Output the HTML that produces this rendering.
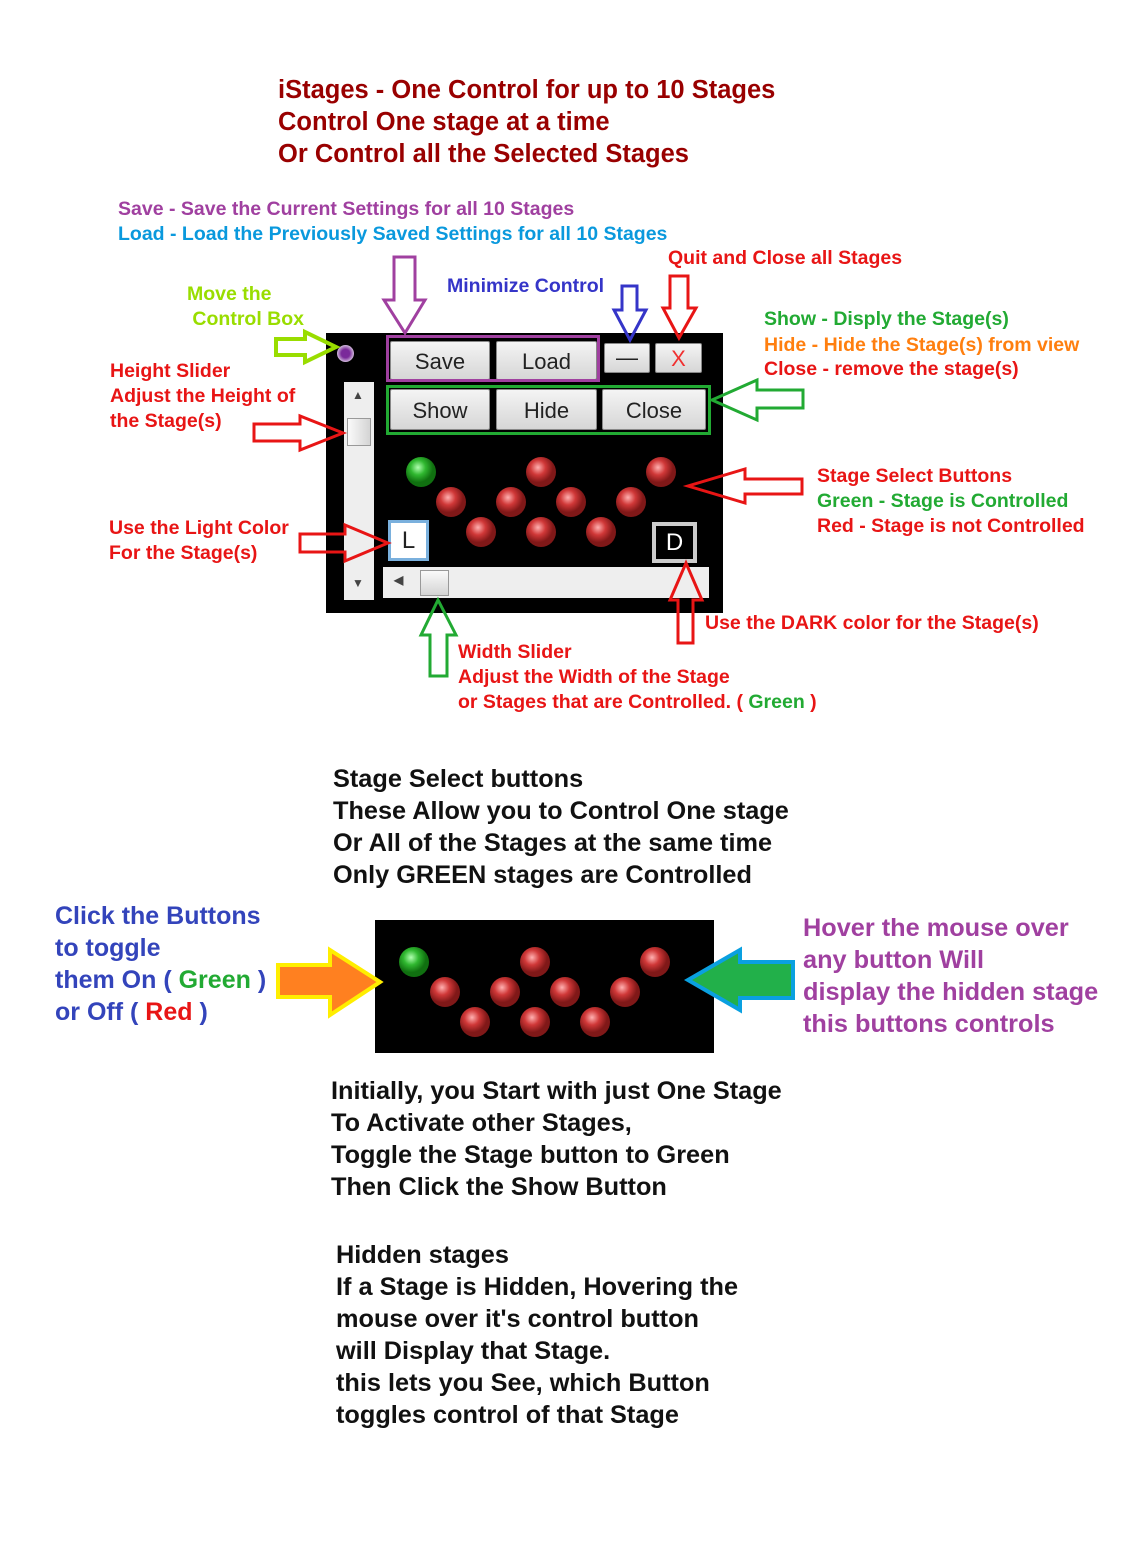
<!DOCTYPE html>
<html><head><meta charset="utf-8"><style>
body{margin:0;width:1137px;height:1553px;background:#fff;position:relative;overflow:hidden;font-family:"Liberation Sans",sans-serif;font-weight:bold}
.t{position:absolute;white-space:nowrap}
.s{font-size:19.5px;line-height:25px}
.b{font-size:25.3px;line-height:32px;color:#111}
.btn{position:absolute;background:linear-gradient(#f4f4f4,#d6d6d6);border:1px solid #888;box-sizing:border-box;font-weight:normal;font-size:22px;color:#222;text-align:center;border-radius:2px}
</style></head><body>
<div class="t" style="left:278px;top:74px;font-size:25.5px;line-height:32px;color:#990000">iStages - One Control for up to 10 Stages<br>Control One stage at a time<br>Or Control all the Selected Stages</div>
<div class="t s" style="left:118px;top:197px;color:#a040a0">Save - Save the Current Settings for all 10 Stages</div>
<div class="t s" style="left:118px;top:222px;color:#0a99dd">Load - Load the Previously Saved Settings for all 10 Stages</div>
<div class="t s" style="left:668px;top:246px;color:#e81515">Quit and Close all Stages</div>
<div class="t s" style="left:447px;top:274px;color:#3535c8">Minimize Control</div>
<div class="t s" style="left:187px;top:282px;color:#99dd00">Move the<br>&nbsp;Control Box</div>
<div class="t s" style="left:110px;top:359px;color:#e81515">Height Slider<br>Adjust the Height of<br>the Stage(s)</div>
<div class="t s" style="left:764px;top:307px;color:#22aa33">Show - Disply the Stage(s)</div>
<div class="t s" style="left:764px;top:333px;color:#ff7f0f">Hide - Hide the Stage(s) from view</div>
<div class="t s" style="left:764px;top:357px;color:#e81515">Close - remove the stage(s)</div>
<div class="t s" style="left:817px;top:464px;color:#e81515">Stage Select Buttons<br><span style="color:#22aa33">Green - Stage is Controlled</span><br>Red - Stage is not Controlled</div>
<div class="t s" style="left:109px;top:516px;color:#e81515">Use the Light Color<br>For the Stage(s)</div>
<div class="t s" style="left:705px;top:611px;color:#e81515">Use the DARK color for the Stage(s)</div>
<div class="t s" style="left:458px;top:640px;color:#e81515">Width Slider<br>Adjust the Width of the Stage<br>or Stages that are Controlled. ( <span style="color:#22aa33">Green</span> )</div>

<div style="position:absolute;left:326px;top:333px;width:397px;height:280px;background:#000"></div>
<div style="position:absolute;left:337px;top:345px;width:17px;height:17px;border-radius:50%;background:radial-gradient(#7a2a9a 35%,#e8e0ee 80%)"></div>
<div class="btn" style="left:390px;top:341px;width:100px;height:39px;line-height:40px">Save</div>
<div class="btn" style="left:496px;top:341px;width:101px;height:39px;line-height:40px">Load</div>
<div class="btn" style="left:604px;top:343px;width:46px;height:30px;line-height:28px">—</div>
<div class="btn" style="left:655px;top:343px;width:47px;height:30px;line-height:30px;color:#f03030">X</div>
<div style="position:absolute;left:386px;top:335px;width:214px;height:47px;border:3px solid #a040a0;box-sizing:border-box"></div>
<div class="btn" style="left:390px;top:389px;width:100px;height:41px;line-height:42px">Show</div>
<div class="btn" style="left:496px;top:389px;width:101px;height:41px;line-height:42px">Hide</div>
<div class="btn" style="left:602px;top:389px;width:104px;height:41px;line-height:42px">Close</div>
<div style="position:absolute;left:386px;top:385px;width:325px;height:50px;border:3px solid #22aa33;box-sizing:border-box"></div>
<div style="position:absolute;left:344px;top:382px;width:30px;height:218px;background:#eee"></div>
<div style="position:absolute;left:347px;top:418px;width:24px;height:28px;background:linear-gradient(90deg,#fafafa,#d4d4d4);border:1px solid #999;box-sizing:border-box"></div>
<div class="t" style="left:352px;top:388px;font-size:12px;color:#444">▲</div>
<div class="t" style="left:352px;top:576px;font-size:12px;color:#444">▼</div>
<div style="position:absolute;left:383px;top:567px;width:326px;height:31px;background:#eee"></div>
<div style="position:absolute;left:420px;top:570px;width:29px;height:26px;background:linear-gradient(#fafafa,#d4d4d4);border:1px solid #999;box-sizing:border-box"></div>
<div class="t" style="left:394px;top:573px;font-size:12px;color:#444">◀</div>
<div style="position:absolute;left:388px;top:520px;width:41px;height:41px;background:#fff;border:3px solid #7ab0dd;box-sizing:border-box;font-size:24px;font-weight:normal;text-align:center;line-height:36px;color:#222">L</div>
<div style="position:absolute;left:652px;top:522px;width:45px;height:41px;background:#000;border:4px solid #ccc;box-sizing:border-box;font-size:24px;font-weight:normal;text-align:center;line-height:34px;color:#fff">D</div>

<div style="position:absolute;left:375px;top:920px;width:339px;height:133px;background:#000"></div>

<svg width="1137" height="1553" style="position:absolute;left:0;top:0" fill="none" stroke-width="3">
<defs>
<radialGradient id="r" cx="40%" cy="35%"><stop offset="0" stop-color="#ffb0b0"/><stop offset=".5" stop-color="#d03838"/><stop offset="1" stop-color="#801818"/></radialGradient>
<radialGradient id="g" cx="40%" cy="35%"><stop offset="0" stop-color="#b0ffb0"/><stop offset=".5" stop-color="#30b830"/><stop offset="1" stop-color="#107010"/></radialGradient>
</defs>
<g stroke="none">
<circle cx="421" cy="472" r="15" fill="url(#g)"/>
<circle cx="541" cy="472" r="15" fill="url(#r)"/><circle cx="661" cy="472" r="15" fill="url(#r)"/>
<circle cx="451" cy="502" r="15" fill="url(#r)"/><circle cx="511" cy="502" r="15" fill="url(#r)"/><circle cx="571" cy="502" r="15" fill="url(#r)"/><circle cx="631" cy="502" r="15" fill="url(#r)"/>
<circle cx="481" cy="532" r="15" fill="url(#r)"/><circle cx="541" cy="532" r="15" fill="url(#r)"/><circle cx="601" cy="532" r="15" fill="url(#r)"/>
<circle cx="414" cy="962" r="15" fill="url(#g)"/>
<circle cx="535" cy="962" r="15" fill="url(#r)"/><circle cx="655" cy="962" r="15" fill="url(#r)"/>
<circle cx="445" cy="992" r="15" fill="url(#r)"/><circle cx="505" cy="992" r="15" fill="url(#r)"/><circle cx="565" cy="992" r="15" fill="url(#r)"/><circle cx="625" cy="992" r="15" fill="url(#r)"/>
<circle cx="475" cy="1022" r="15" fill="url(#r)"/><circle cx="535" cy="1022" r="15" fill="url(#r)"/><circle cx="595" cy="1022" r="15" fill="url(#r)"/>
</g>
<polygon stroke="#a040a0" points="394,257 415,257 415,300 425,300 405,333 384,300 394,300"/>
<polygon stroke="#3535c8" points="622,286 637,286 637,310 646,310 630,340 614,310 622,310"/>
<polygon stroke="#e81515" points="670,276 688,276 688,308 696,308 679,338 663,308 670,308"/>
<polygon stroke="#99dd00" stroke-width="4" points="276,339 305,339 305,332 336,347 305,362 305,355 276,355"/>
<polygon stroke="#22aa33" points="803,390 803,408 757,408 757,420 712,400 757,380 757,390"/>
<polygon stroke="#e81515" points="254,424 300,424 300,416 343,433 300,450 300,441 254,441"/>
<polygon stroke="#e81515" points="802,479 802,494 745,494 745,503 688,486 745,469 745,479"/>
<polygon stroke="#e81515" points="300,534 345,534 345,525 388,543 345,561 345,552 300,552"/>
<polygon stroke="#22aa33" points="430,676 447,676 447,635 456,635 438,600 421,635 430,635"/>
<polygon stroke="#e81515" points="678,643 693,643 693,600 702,600 686,563 670,600 678,600"/>
<polygon stroke="#ffee00" stroke-width="4" fill="#ff8020" points="278,965 330,965 330,950 380,982 330,1015 330,997 278,997"/>
<polygon stroke="#0aa0e0" stroke-width="4" fill="#22b04a" points="793,962 793,998 740,998 740,1010 688,980 740,950 740,962"/>
</svg>

<div class="t b" style="left:333px;top:763px">Stage Select buttons<br>These Allow you to Control One stage<br>Or All of the Stages at the same time<br>Only GREEN stages are Controlled</div>
<div class="t" style="left:55px;top:900px;font-size:25px;line-height:32px;color:#3344bb">Click the Buttons<br>to toggle<br>them On ( <span style="color:#22aa33">Green</span> )<br>or Off ( <span style="color:#e81515">Red</span> )</div>
<div class="t" style="left:803px;top:912px;font-size:25.3px;line-height:32px;color:#a040a0">Hover the mouse over<br>any button Will<br>display the hidden stage<br>this buttons controls</div>
<div class="t b" style="left:331px;top:1075px">Initially, you Start with just One Stage<br>To Activate other Stages,<br>Toggle the Stage button to Green<br>Then Click the Show Button</div>
<div class="t b" style="left:336px;top:1239px">Hidden stages<br>If a Stage is Hidden, Hovering the<br>mouse over it's control button<br>will Display that Stage.<br>this lets you See, which Button<br>toggles control of that Stage</div>
</body></html>
